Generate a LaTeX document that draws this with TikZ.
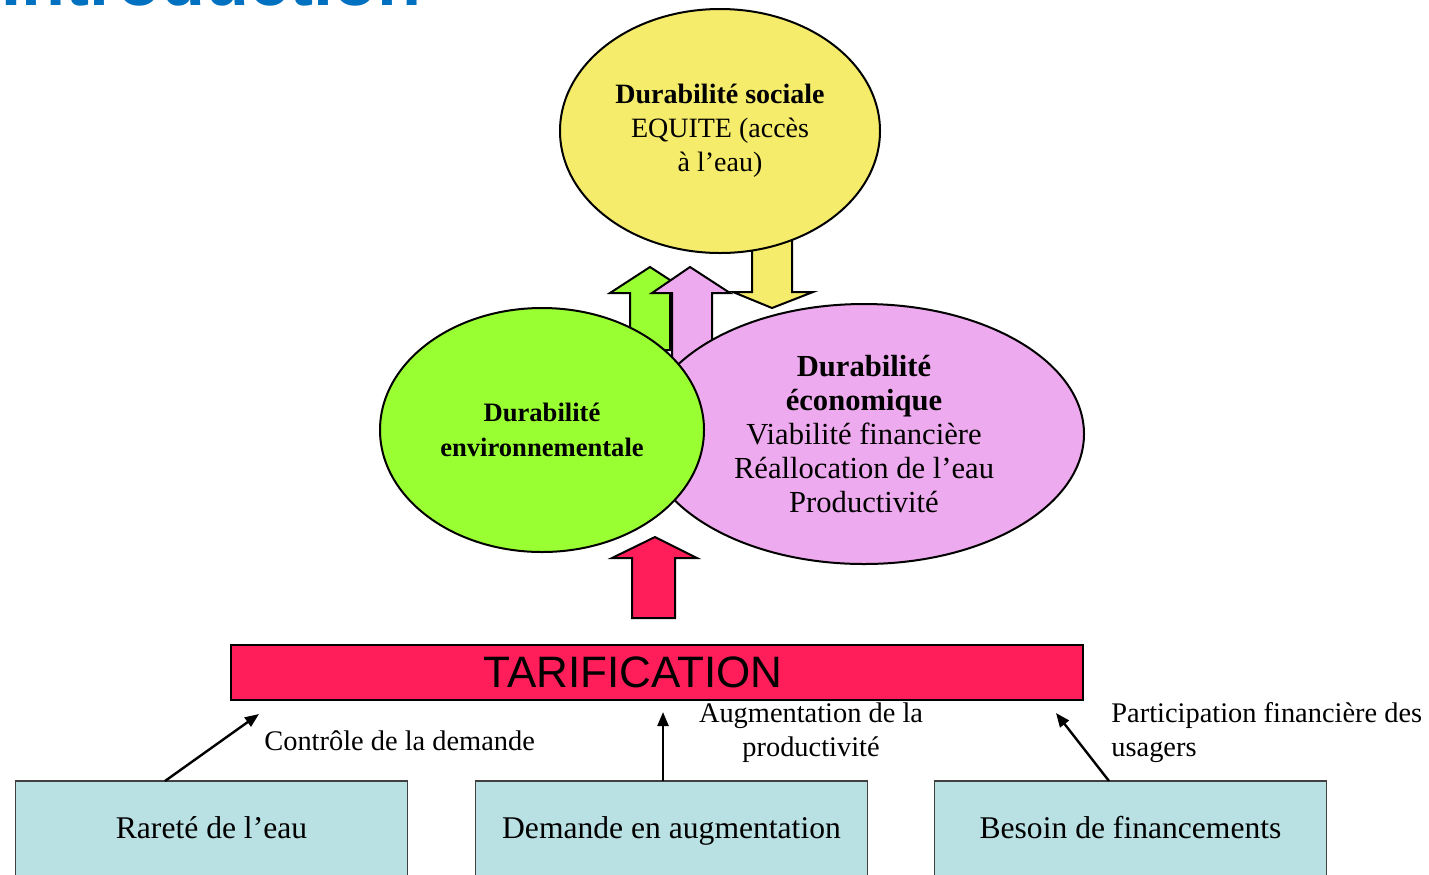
\documentclass[tikz,border=0pt]{standalone}
\usepackage{fontspec}
\setmainfont{Liberation Serif}
\setsansfont{Liberation Sans}
\usetikzlibrary{arrows.meta,shapes.geometric}

\definecolor{gelb}{RGB}{246,236,107}
\definecolor{gruen}{RGB}{153,255,51}
\definecolor{rosa}{RGB}{238,170,238}
\definecolor{rot}{RGB}{255,30,90}
\definecolor{tuerkis}{RGB}{185,224,227}
\definecolor{titelblau}{RGB}{0,112,192}

\tikzset{
    kreis/.style={ellipse, draw, line width=1pt, inner sep=0pt, align=center},
    blockpfeil/.style={draw, line width=1pt, line join=miter},
    kasten/.style={draw=black!75, line width=0.8pt, fill=tuerkis, minimum width=196pt,
        minimum height=50pt, text height=11pt, text depth=3.5pt,
        font=\fontsize{15.8}{18}\selectfont},
    beschr/.style={inner sep=0pt, font=\fontsize{14.2}{17}\selectfont},
    duenn/.style={-{Triangle[length=7pt,width=5.5pt]}, line width=1.2pt}
}

\begin{document}
\begin{tikzpicture}[x=0.5pt,y=-0.5pt]
    \clip (0,0) rectangle (1429,874);
    \useasboundingbox (0,0) rectangle (1429,874);

    % Titel, oben abgeschnitten
    \node[anchor=base east, inner sep=0pt, text=titelblau,
        font=\sffamily\bfseries\fontsize{36}{40}\selectfont] (titel) at (422,5) {Introduction};

    % Blockpfeile zwischen den Ellipsen
    \draw[blockpfeil, fill=gruen] (630,350) -- (630,293) -- (610,293) -- (650,267)
        -- (690,293) -- (670,293) -- (670,350) -- cycle;
    \draw[blockpfeil, fill=rosa] (672,380) -- (672,293) -- (652,293) -- (690,267)
        -- (730,293) -- (712,293) -- (712,380) -- cycle;
    \draw[blockpfeil, fill=gelb] (752,235) -- (752,292) -- (733,292) -- (772,308)
        -- (813,292) -- (792,292) -- (792,235) -- cycle;

    % Ellipsen
    \node[kreis, fill=gelb, minimum width=160pt, minimum height=122pt,
        font=\fontsize{14}{17}\selectfont] (sozial) at (720,131)
        {\textbf{Durabilité sociale}\\EQUITE (accès\\à l’eau)};
    \node[kreis, fill=rosa, minimum width=220pt, minimum height=130pt,
        font=\fontsize{15.3}{17}\selectfont] (oekonom) at (864,434)
        {\textbf{Durabilité}\\\textbf{économique}\\Viabilité financière\\Réallocation de l’eau\\Productivité};
    \node[kreis, fill=gruen, minimum width=162pt, minimum height=122pt,
        font=\fontsize{13.3}{17.5}\selectfont] (umwelt) at (542,430)
        {\textbf{Durabilité}\\\textbf{environnementale}};

    % Pfeil von der Tarifierung
    \draw[blockpfeil, fill=rot] (632,618) -- (632,558) -- (612,558) -- (655,537)
        -- (697,558) -- (675,558) -- (675,618) -- cycle;

    % Balken
    \node[draw, line width=1pt, fill=rot, minimum width=426pt, minimum height=27.5pt]
        (tarif) at (657,672.5) {};
    \node[font=\sffamily\fontsize{22}{24}\selectfont, inner sep=0pt] (tariftext)
        at (633,672) {TARIFICATION};

    % Kaesten unten
    \node[kasten] (rarete) at (211.5,831) {Rareté de l’eau};
    \node[kasten] (demande) at (671.5,831) {Demande en augmentation};
    \node[kasten] (besoin) at (1130.5,831) {Besoin de financements};

    % Beschriftungen
    \node[beschr, anchor=west] (controle) at (264,741) {Contrôle de la demande};
    \node[beschr, align=center] (productivite) at (811,733) {Augmentation de la\\productivité};
    \node[beschr, align=left, anchor=west] (participation) at (1111,733)
        {Participation financière des\\usagers};

    % Duenne Pfeile
    \coordinate (r1) at (165,781);
    \coordinate (r2) at (259,714);
    \coordinate (d1) at (663,781);
    \coordinate (d2) at (663,712);
    \coordinate (b1) at (1109,781);
    \coordinate (b2) at (1056,713);
    \draw[duenn] (r1) -- (r2);
    \draw[duenn] (d1) -- (d2);
    \draw[duenn] (b1) -- (b2);
\end{tikzpicture}
\end{document}
